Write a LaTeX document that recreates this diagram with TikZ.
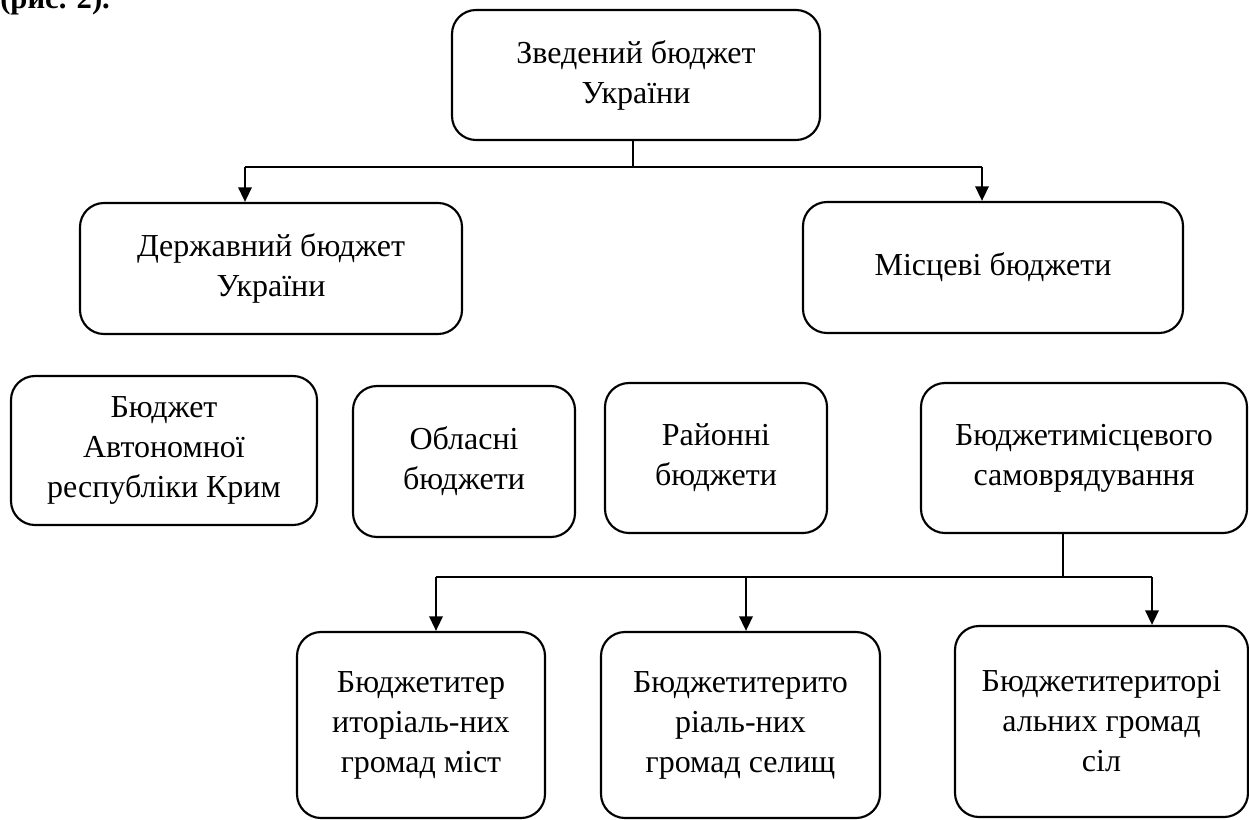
\documentclass[tikz,border=0pt]{standalone}
\usepackage{fontspec}
\setmainfont{Liberation Serif}
\usetikzlibrary{arrows.meta}

\tikzset{
	budget/.style={draw, line width=1.6pt, rounded corners=18pt, align=center, inner sep=0pt, font=\fontsize{24}{30}\selectfont},
	link/.style={line width=0.9pt},
	drop/.style={line width=1.8pt, -{Triangle[length=11pt,width=10pt]}},
}

\begin{document}
\begin{tikzpicture}[x=0.75pt,y=0.75pt,yscale=-1,xscale=1]
	\clip (0,0) rectangle (1249,820);
	\path[use as bounding box] (0,0) rectangle (1249,820);
	
	% Text Node
	\node [anchor=base west, inner sep=0pt, font=\fontsize{23}{30}\selectfont\bfseries] (ris) at (0,9) {(рис. 2).};
	
	% Boxes
	\node [budget, minimum width=276pt, minimum height=97.5pt] (zved) at (636,75) {Зведений бюджет\\України};
	\node [budget, minimum width=286.5pt, minimum height=98.25pt] (derzh) at (271,268.5) {Державний бюджет\\України};
	\node [budget, minimum width=285pt, minimum height=98.25pt] (mists) at (993,267.5) {Місцеві бюджети};
	
	\node [budget, minimum width=229.5pt, minimum height=111.75pt] (krym) at (164,450.5) {Бюджет\\Автономної\\республіки Крим};
	\node [budget, minimum width=166.5pt, minimum height=113.25pt] (obl) at (464,461.5) {Обласні\\бюджети};
	\node [budget, minimum width=166.5pt, minimum height=112.5pt] (rai) at (716,458) {Районні\\бюджети};
	\node [budget, minimum width=244.5pt, minimum height=112.5pt] (samo) at (1084,458) {Бюджетимісцевого\\самоврядування};
	
	\node [budget, minimum width=186pt, minimum height=139.5pt] (mist) at (421,725) {Бюджетитер\\иторіаль-них\\громад міст};
	\node [budget, minimum width=209.25pt, minimum height=139.5pt] (sel) at (740.5,725) {Бюджетитерито\\ріаль-них\\громад селищ};
	\node [budget, minimum width=219.75pt, minimum height=143.25pt] (sil) at (1101.5,721.5) {Бюджетитериторі\\альних громад\\сіл};
	
	% Upper connectors
	\coordinate (busA) at (633,167);
	\coordinate (dropA) at (245,167);
	\coordinate (dropB) at (982,167);
	\draw [link] (zved.south -| busA) -- (busA);
	\draw [link] (dropA) -- (dropB);
	\draw [drop] (dropA) -- (dropA |- derzh.north);
	\draw [drop] (dropB) -- (dropB |- mists.north);
	
	% Lower connectors
	\coordinate (busB) at (1063,577);
	\coordinate (dropC) at (436,577);
	\coordinate (dropD) at (746,577);
	\coordinate (dropE) at (1152,577);
	\draw [link] (samo.south -| busB) -- (busB);
	\draw [link] (dropC) -- (dropE);
	\draw [drop] (dropC) -- (dropC |- mist.north);
	\draw [drop] (dropD) -- (dropD |- sel.north);
	\draw [drop] (dropE) -- (dropE |- sil.north);
	
\end{tikzpicture}
\end{document}
